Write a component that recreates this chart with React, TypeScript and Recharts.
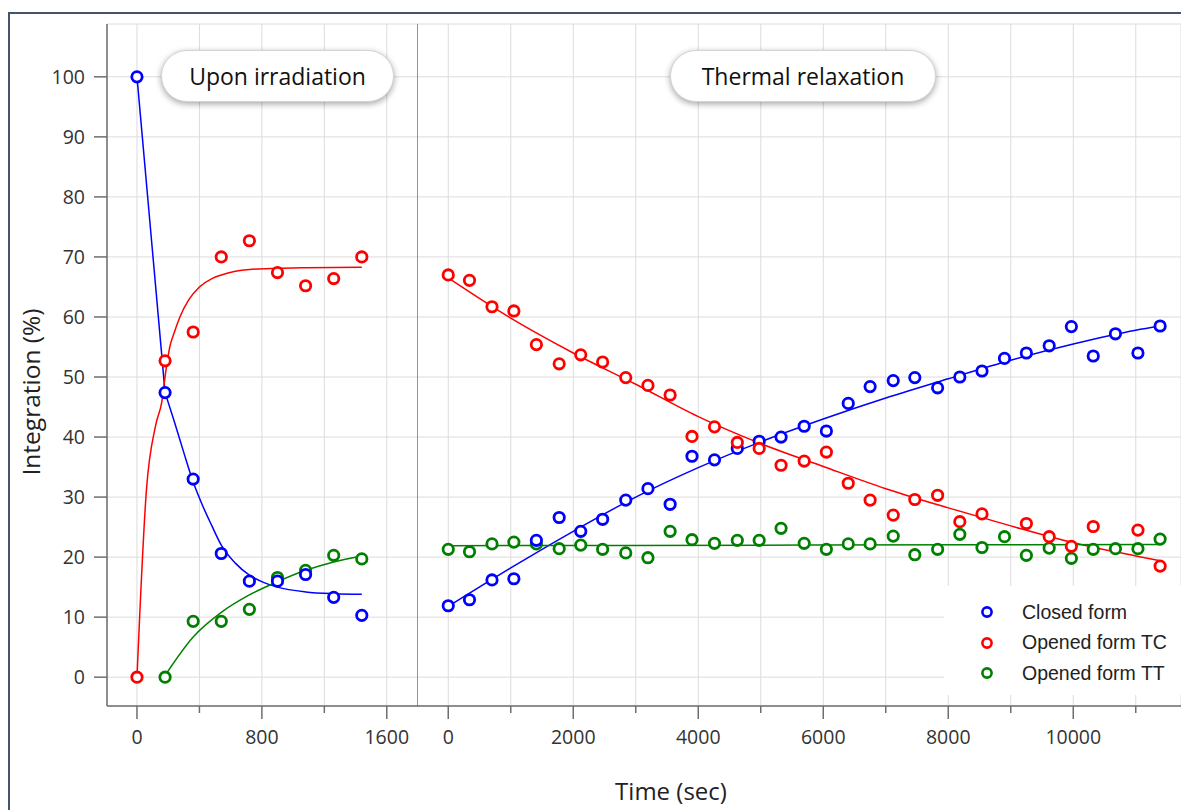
import React from 'react';
import { ComposedChart, Line, Scatter, XAxis, YAxis, CartesianGrid, ReferenceLine } from 'recharts';

// Upon irradiation: measured points (sec, %)
const irrTime = [0, 180, 360, 540, 720, 900, 1080, 1260, 1440];
const irrClosed = [100, 47.4, 33, 20.6, 16, 16, 17.1, 13.3, 10.3];
const irrTC = [0, 52.7, 57.5, 70, 72.7, 67.4, 65.2, 66.4, 70];
const irrTT = [null, 0, 9.3, 9.3, 11.3, 16.6, 17.8, 20.3, 19.7];

// Upon irradiation: fitted curves (closed form has a straight first step)
const irrFitClosedStepT = [0, 180];
const irrFitClosedStepV = [100, 47.4];
const irrFitClosedT = [180, 240, 300, 360, 420, 480, 540, 630, 720, 810, 900, 1080, 1260, 1440];
const irrFitClosedV = [47.4, 42.5, 37.4, 32.5, 28.6, 25.2, 22, 19, 17, 15.8, 15, 14.2, 13.9, 13.8];
const irrFitTCT = [0, 60, 120, 160, 185, 210, 240, 275, 330, 400, 480, 540, 630, 720, 900, 1080, 1440];
const irrFitTCV = [0, 31, 42, 46, 51, 55, 57.5, 60, 62.8, 65, 66.4, 67, 67.6, 67.9, 68.1, 68.2, 68.3];
const irrFitTTT = [180, 360, 540, 720, 900, 1080, 1260, 1440];
const irrFitTTV = [0.3, 6.7, 10.8, 13.7, 15.9, 17.8, 19.2, 20.2];

// Thermal relaxation: measured points (sec, %)
const relTime = [0, 340, 700, 1050, 1410, 1775, 2120, 2470, 2840, 3195, 3550, 3900, 4260, 4625, 4975, 5325,
  5695, 6050, 6400, 6750, 7120, 7465, 7830, 8185, 8540, 8900, 9250, 9615, 9970, 10320, 10675, 11035, 11390];
const relClosed = [11.9, 12.9, 16.2, 16.4, 22.8, 26.6, 24.3, 26.3, 29.5, 31.4, 28.8, 36.8, 36.2, 38.1, 39.3, 40.0,
  41.8, 41.0, 45.6, 48.4, 49.4, 49.9, 48.2, 50.0, 51.0, 53.1, 54.0, 55.2, 58.4, 53.5, 57.2, 54.0, 58.5];
const relTC = [67.0, 66.1, 61.7, 61.0, 55.4, 52.2, 53.7, 52.5, 49.9, 48.6, 47.0, 40.1, 41.7, 39.1, 38.1, 35.3,
  36.0, 37.5, 32.3, 29.5, 27.0, 29.6, 30.3, 25.9, 27.2, null, 25.6, 23.4, 21.8, 25.1, null, 24.5, 18.5];
const relTT = [21.3, 20.9, 22.2, 22.5, 22.2, 21.4, 22.0, 21.3, 20.7, 19.9, 24.3, 22.9, 22.3, 22.8, 22.8, 24.8,
  22.3, 21.3, 22.2, 22.2, 23.5, 20.4, 21.3, 23.8, 21.6, 23.4, 20.3, 21.5, 19.8, 21.3, 21.4, 21.4, 23.0];

// Thermal relaxation: fitted curves
const relFitT = [0, 1000, 2000, 3000, 4000, 5000, 6000, 7000, 8000, 9000, 10000, 11000, 11390];
const relFitClosedV = [11.8, 18.2, 24.3, 30, 34.9, 39.2, 43, 46.5, 49.7, 52.8, 55.5, 57.8, 58.5];
const relFitTCV = [66.5, 59.8, 54, 48.8, 43.4, 38.9, 35.1, 31.4, 28.2, 25.2, 22.4, 20.2, 19.4];
const relFitTTT = [0, 5700, 11390];
const relFitTTV = [21.9, 22.0, 22.1];

const yTicks = [0, 10, 20, 30, 40, 50, 60, 70, 80, 90, 100];
const irrTicks = [0, 400, 800, 1200, 1600];
const relTicks = [0, 1000, 2000, 3000, 4000, 5000, 6000, 7000, 8000, 9000, 10000, 11000];

const BLUE = '#0000ff';
const RED = '#ff0000';
const GREEN = '#008000';
const AXIS = '#6e6e6e';
const GRID = '#dcdcdc';
const TICK_FONT = '"Open Sans", sans-serif';

const Y_DOMAIN: [number, number] = [-4.8, 108.8];
const MARGIN_TOP = 24;
const MARGIN_BOTTOM = 44;
const X_AXIS_H = 60;

const pts = (ts: number[], vs: (number | null)[]) =>
  ts.map((t, i) => ({ t, v: vs[i] })).filter((d) => d.v != null);

const ring = (color: string) => (p: any) =>
  <circle cx={p.cx} cy={p.cy} r={5.2} fill="#fff" stroke={color} strokeWidth={2.8} />;

// ticks every grid step, labels only on the major ones
const makeXTick = (major: number) => (props: any) => {
  const { x, y, payload } = props;
  const v = payload.value;
  const isMajor = v % major === 0;
  return (
    <g>
      <line x1={x} x2={x} y1={y} y2={y + (isMajor ? 13 : 7)} stroke={AXIS} strokeWidth={1.5} />
      {isMajor && (
        <text x={x} y={y + 31} dy="0.355em" textAnchor="middle" fontSize={19.5} fontFamily={TICK_FONT} fill="#333">
          {v}
        </text>
      )}
    </g>
  );
};

const fitLine = (key: string, data: any[], color: string, type: 'monotone' | 'linear' = 'monotone') => (
  <Line key={key} data={data} dataKey="v" type={type} stroke={color} strokeWidth={1.5}
    dot={false} activeDot={false} isAnimationActive={false} />
);

const pill: React.CSSProperties = {
  position: 'absolute', top: 50, height: 52, boxSizing: 'border-box',
  background: '#fff', border: '1px solid #d4d4d4', borderRadius: 26,
  boxShadow: '0 2px 6px rgba(0,0,0,0.35)', display: 'flex', alignItems: 'center',
  justifyContent: 'center', fontFamily: TICK_FONT, fontSize: 23, color: '#111', whiteSpace: 'nowrap',
};

const legendItems = [
  { name: 'Closed form', color: BLUE },
  { name: 'Opened form TC', color: RED },
  { name: 'Opened form TT', color: GREEN },
];

export default function App() {
  return (
    <div style={{ position: 'absolute', left: 0, top: 0, width: 1181, height: 810, background: '#fff', overflow: 'hidden' }}>
      {/* outer frame */}
      <div style={{ position: 'absolute', left: 8, top: 12, width: 1200, height: 820, borderTop: '2px solid #44546a', borderLeft: '2px solid #44546a' }} />

      {/* left panel: upon irradiation */}
      <div style={{ position: 'absolute', left: 0, top: 0 }}>
        <ComposedChart width={418} height={810} margin={{ top: MARGIN_TOP, right: 0, bottom: MARGIN_BOTTOM, left: 47 }}>
          <CartesianGrid stroke={GRID} />
          <XAxis type="number" dataKey="t" domain={[-192, 1800]} ticks={irrTicks} allowDataOverflow
            height={X_AXIS_H} tickSize={0} tickMargin={0} tickLine={false}
            axisLine={{ stroke: AXIS, strokeWidth: 1.5 }} tick={makeXTick(800)} interval={0} />
          <YAxis type="number" dataKey="v" domain={Y_DOMAIN} ticks={yTicks} allowDataOverflow width={60}
            tickSize={13} tickMargin={9} interval={0}
            axisLine={{ stroke: AXIS, strokeWidth: 1.5 }} tickLine={{ stroke: AXIS, strokeWidth: 1.5 }}
            tick={{ fontSize: 19.5, fontFamily: TICK_FONT, fill: '#333' }} />
          {fitLine('fcs', pts(irrFitClosedStepT, irrFitClosedStepV), BLUE, 'linear')}
          {fitLine('fc', pts(irrFitClosedT, irrFitClosedV), BLUE)}
          {fitLine('ftc', pts(irrFitTCT, irrFitTCV), RED)}
          {fitLine('ftt', pts(irrFitTTT, irrFitTTV), GREEN)}
          <Scatter data={pts(irrTime, irrTT)} dataKey="v" shape={ring(GREEN)} isAnimationActive={false} />
          <Scatter data={pts(irrTime, irrClosed)} dataKey="v" shape={ring(BLUE)} isAnimationActive={false} />
          <Scatter data={pts(irrTime, irrTC)} dataKey="v" shape={ring(RED)} isAnimationActive={false} />
        </ComposedChart>
      </div>

      {/* right panel: thermal relaxation */}
      <div style={{ position: 'absolute', left: 417, top: 0 }}>
        <ComposedChart width={764} height={810} margin={{ top: MARGIN_TOP, right: 0, bottom: MARGIN_BOTTOM, left: 0 }}>
          <CartesianGrid stroke={GRID} />
          <XAxis type="number" dataKey="t" domain={[-500, 11724]} ticks={relTicks} allowDataOverflow
            height={X_AXIS_H} tickSize={0} tickMargin={0} tickLine={false}
            axisLine={{ stroke: AXIS, strokeWidth: 1.5 }} tick={makeXTick(2000)} interval={0} />
          <YAxis type="number" dataKey="v" domain={Y_DOMAIN} ticks={yTicks} allowDataOverflow hide />
          <ReferenceLine x={-500} stroke="#777" strokeWidth={1.5} ifOverflow="visible" />
          {fitLine('rc', pts(relFitT, relFitClosedV), BLUE)}
          {fitLine('rtc', pts(relFitT, relFitTCV), RED)}
          {fitLine('rtt', pts(relFitTTT, relFitTTV), GREEN)}
          <Scatter data={pts(relTime, relTT)} dataKey="v" shape={ring(GREEN)} isAnimationActive={false} />
          <Scatter data={pts(relTime, relClosed)} dataKey="v" shape={ring(BLUE)} isAnimationActive={false} />
          <Scatter data={pts(relTime, relTC)} dataKey="v" shape={ring(RED)} isAnimationActive={false} />
        </ComposedChart>
      </div>

      {/* panel captions */}
      <div style={{ ...pill, left: 161, width: 233 }}>Upon irradiation</div>
      <div style={{ ...pill, left: 670, width: 266 }}>Thermal relaxation</div>

      {/* legend */}
      <div style={{ position: 'absolute', left: 944, top: 586, width: 237, height: 109, background: '#fff' }}>
        {legendItems.map((it, i) => (
          <div key={it.name} style={{ position: 'absolute', left: 0, top: 11 + i * 30.5, height: 30, width: 237, display: 'flex', alignItems: 'center' }}>
            <svg width={14} height={14} style={{ position: 'absolute', left: 36 }}>
              <circle cx={7} cy={7} r={4.6} fill="#fff" stroke={it.color} strokeWidth={2.6} />
            </svg>
            <span style={{ position: 'absolute', left: 78, fontFamily: '"Liberation Sans", Arial, sans-serif', fontSize: 19.5, color: '#222', whiteSpace: 'nowrap' }}>
              {it.name}
            </span>
          </div>
        ))}
      </div>

      {/* axis titles */}
      <div style={{ position: 'absolute', left: 30, top: 392, transform: 'translate(-50%, -50%) rotate(-90deg)', fontFamily: TICK_FONT, fontSize: 24.5, color: '#222', whiteSpace: 'nowrap' }}>
        Integration (%)
      </div>
      <div style={{ position: 'absolute', left: 671, top: 790, transform: 'translate(-50%, -50%)', fontFamily: TICK_FONT, fontSize: 24, color: '#222', whiteSpace: 'nowrap' }}>
        Time (sec)
      </div>
    </div>
  );
}
